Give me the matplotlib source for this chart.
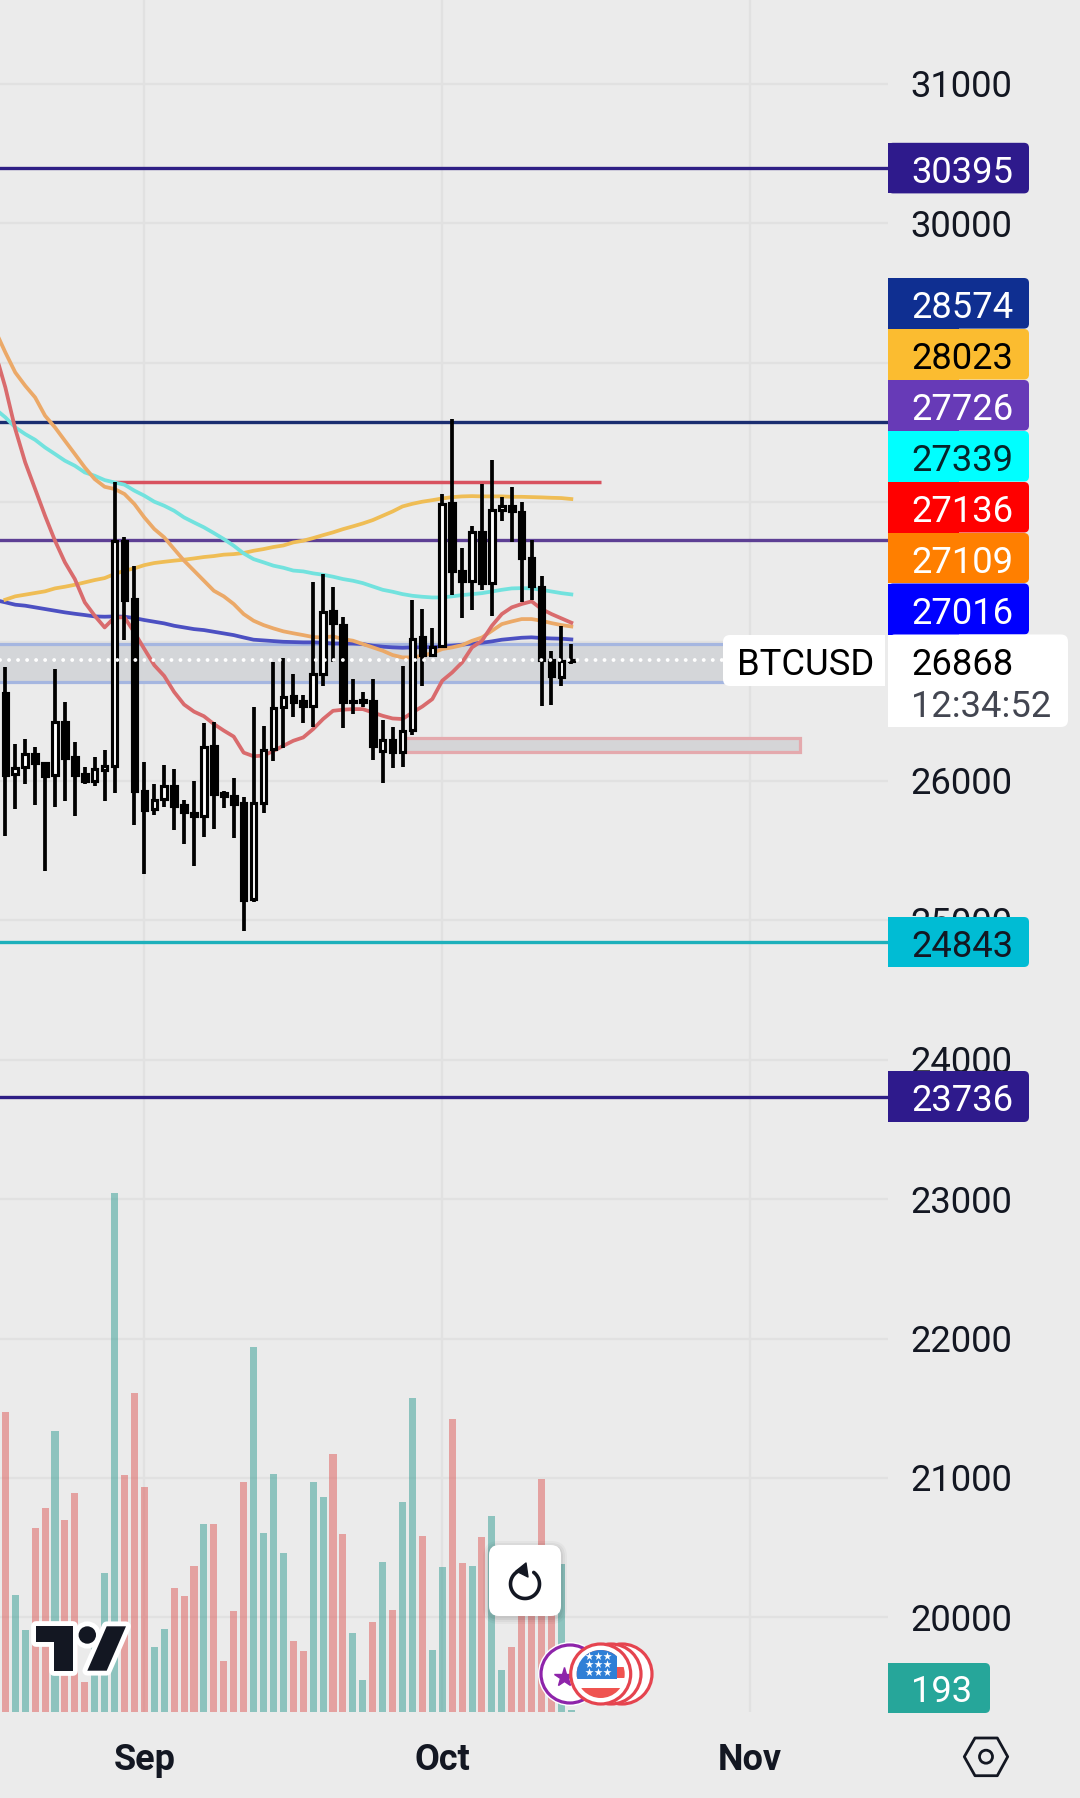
import numpy as np
import matplotlib
matplotlib.use("Agg")
import matplotlib.pyplot as plt
from matplotlib.patches import Rectangle, FancyBboxPatch, Circle, Polygon
from matplotlib.transforms import ScaledTranslation

plt.rcParams['font.family'] = ['Roboto', 'DejaVu Sans']

# ---------- data ----------
candle_idx = list(range(58))
highs = [26819,26265,26301,26242,26135,26801,26567,26281,26101,26170,26222,28146,27754,27541,26135,25978,26114,26086,25863,25999,
         26416,26427,25930,26019,25883,26529,26393,26855,26880,26767,26617,27430,27485,27389,27174,26732,26636,26732,26437,26385,
         26827,27298,27234,27097,28059,28597,27671,27831,28130,28302,28035,28106,28000,27731,27473,26930,27109,26983]
lows = [25609,25801,25981,25827,25358,25812,25858,25750,25978,25965,25858,25914,27011,25686,25333,25760,25812,25648,25548,25391,
        25602,25658,25807,25594,24923,25135,25768,26147,26234,26461,26416,26385,26684,26851,26380,26481,26528,26153,25983,26091,
        26103,26332,26684,26894,26966,27337,27172,27229,27370,27186,27867,27717,27286,27301,26540,26547,26679,26839]
opens = [26632,26050,26101,26191,26132,26045,26427,26170,26050,25999,26081,26106,27723,27305,25927,25801,25871,25968,25827,25773,
         25748,26255,25914,25896,25840,25153,25845,26229,26528,26607,26576,26540,26767,27217,27121,26564,26569,26576,26213,26296,
         26210,26366,27030,26904,26971,27992,27509,27437,27784,27420,27944,27975,27927,27597,27394,26870,26748,26863]
closes = [26045,26096,26191,26127,26037,26427,26165,26045,25999,26083,26106,27723,27300,25930,25794,25865,25968,25819,25781,25748,
          26242,25904,25896,25832,25148,25845,26224,26524,26600,26569,26535,26767,27215,27131,26564,26576,26581,26253,26296,26206,
          26361,27018,26904,26959,27987,27504,27432,27788,27418,27944,27970,27934,27597,27396,26870,26755,26863,26868]

volumes = [30000,11700,8200,18400,20400,28100,19200,21900,3000,7500,13900,51900,23700,31900,22500,6500,8300,12400,11600,14600,
           18800,18800,5100,10100,23000,36500,17900,23800,15900,7100,6100,23000,21500,25800,17800,7900,3200,9000,15000,10200,
           21000,31400,17600,6200,14500,29300,14900,14600,17500,19600,4200,6500,13000,11000,23300,10000,14800,193]
volume_sides = list("rggrrgrrrgggrrrggrrrgrrrrggggrrggrrggrgrggrggrrgrggrrrrrgg")

ma_idx = list(range(-1, 58))
ma_red = [29070,28824,28525,28286,28095,27903,27724,27569,27449,27282,27186,27102,27174,27174,27066,26947,26831,26754,26639,26549,
          26498,26465,26409,26362,26319,26204,26178,26183,26216,26253,26289,26313,26373,26445,26504,26512,26516,26516,26492,26468,
          26449,26445,26492,26535,26588,26720,26779,26851,26959,27006,27114,27198,27246,27270,27289,27234,27198,27167,27136]
ma_orange = [29230,29075,28931,28836,28752,28621,28537,28441,28346,28250,28166,28111,28095,28059,27987,27891,27808,27748,27664,27581,
             27509,27437,27365,27325,27270,27198,27150,27119,27095,27074,27060,27047,27033,27030,27038,27018,27007,26983,26959,26935,
             26904,26887,26887,26899,26918,26947,26959,26975,27006,27030,27078,27126,27145,27162,27162,27150,27133,27119,27109]
ma_cyan = [28668,28609,28537,28489,28448,28393,28346,28298,28262,28214,28190,28159,28142,28126,28083,28047,28004,27975,27939,27891,
           27855,27820,27779,27736,27688,27633,27592,27569,27545,27530,27510,27504,27490,27480,27466,27449,27437,27420,27396,27372,
           27358,27341,27329,27322,27317,27317,27325,27334,27341,27348,27360,27372,27382,27384,27382,27372,27360,27348,27339]
ma_blue = [27298,27282,27265,27258,27246,27234,27222,27210,27200,27191,27181,27179,27181,27179,27169,27155,27143,27131,27114,27102,
           27090,27083,27071,27059,27047,27030,27014,27009,27004,26999,26997,26995,26995,26992,26987,26987,26987,26983,26971,26964,
           26959,26956,26959,26959,26961,26966,26971,26978,26987,26992,27002,27014,27021,27028,27031,27026,27023,27021,27016]
ma_yellow_idx = list(range(0, 58))
ma_yellow = [27301,27325,27337,27349,27361,27382,27394,27408,27425,27442,27456,27485,27509,27526,27549,27564,27573,27581,27588,27597,
             27607,27614,27624,27628,27636,27652,27664,27679,27690,27712,27724,27743,27764,27784,27807,27827,27848,27872,27903,27934,
             27970,27989,28004,28015,28027,28037,28042,28044,28042,28042,28042,28039,28039,28037,28035,28032,28030,28023]

level_prices = [30395, 28574, 27726, 24843, 23736]
level_colors = ['#2e1f85', '#1a2d70', '#5d3f94', '#1db0bb', '#2e1f85']
ray_price = 28146
ray_start, ray_end = 11, 60
zone_blue = (26712, 26983)
zone_red = (26208, 26308, 40, 80.0)
last_price = 26868

price_ticks = [20000,21000,22000,23000,24000,25000,26000,27000,28000,29000,30000,31000]
price_tick_labels = ['20000','21000','22000','23000','24000','25000','26000','','','','30000','31000']
month_pos = [14, 44, 75]
month_labels = ['Sep', 'Oct', 'Nov']

BG = '#ebebeb'
INK = '#131722'
W, H = 1080, 1799
PANE_R, PANE_B = 888, 1713

fig = plt.figure(figsize=(W/100, H/100), dpi=100, facecolor=BG)
rect = [0, (H-PANE_B)/H, PANE_R/W, PANE_B/H]

ax = fig.add_axes(rect, zorder=1)
ax.set_facecolor(BG)
ax.set_xlim(-0.537, 88.89)
ax.set_ylim(19322, 31610)
for s in ax.spines.values():
    s.set_visible(False)
ax.yaxis.tick_right()
ax.set_yticks(price_ticks)
ax.set_yticklabels(price_tick_labels, fontsize=26.2, color=INK)
ax.tick_params(axis='y', length=0, pad=16.3)
up_shift = ScaledTranslation(0, 1.2/72, fig.dpi_scale_trans)
for lab in ax.get_yticklabels():
    lab.set_transform(lab.get_transform() + up_shift)
ax.set_xticks(month_pos)
ax.set_xticklabels(month_labels, fontsize=25.9, fontweight='bold', color=INK)
ax.tick_params(axis='x', length=0, pad=21)
ax.grid(True, color='#e1e1e1', linewidth=1.7)
ax.set_axisbelow(True)

# zones
ax.add_patch(Rectangle((-1, zone_blue[0]), 75, zone_blue[1]-zone_blue[0], facecolor='#d4d6d9',
                       edgecolor='#a5b6e0', linewidth=2.3, zorder=1.5))
ax.add_patch(Rectangle((zone_red[2], zone_red[0]), zone_red[3]-zone_red[2], zone_red[1]-zone_red[0],
                       facecolor='#d5d5d7', edgecolor='#e4a9ad', linewidth=2.3, zorder=1.5))

# levels
for p, c in zip(level_prices, level_colors):
    ax.axhline(p, color=c, linewidth=2.4, zorder=2)
ax.plot([ray_start, ray_end], [ray_price, ray_price], color='#d8525f', linewidth=2.5, zorder=2, solid_capstyle='butt')

# moving averages
ma_kw = dict(linewidth=2.7, zorder=3, solid_joinstyle='round')
ax.plot(ma_idx, ma_blue, color='#4c50c2', **ma_kw)
ax.plot(ma_yellow_idx, ma_yellow, color='#efbd55', **ma_kw)
ax.plot(ma_idx, ma_cyan, color='#72e2de', **ma_kw)
ax.plot(ma_idx, ma_orange, color='#eba968', **ma_kw)
ax.plot(ma_idx, ma_red, color='#d96b6d', **ma_kw)

# candles
ax.vlines(candle_idx, lows, highs, color='black', linewidth=2.7, zorder=4)
o, c_ = np.array(opens), np.array(closes)
body_colors = ['white' if b > a else 'black' for a, b in zip(opens, closes)]
ax.bar(candle_idx, np.abs(c_-o), bottom=np.minimum(o, c_), width=0.56, color=body_colors,
       edgecolor='black', linewidth=2.25, zorder=5)

# last price dotted
ax.plot([-0.5, 72.5], [last_price, last_price], color='white', linewidth=2.8,
        linestyle=(0, (0.01, 2.31)), dash_capstyle='round', zorder=6)

# volumes
axv = fig.add_axes(rect, zorder=2, sharex=ax)
axv.patch.set_visible(False)
axv.set_ylim(0, PANE_B*100)
axv.axis('off')
vol_cols = ['#319d93' if s == 'g' else '#df5957' for s in volume_sides]
axv.bar(candle_idx, volumes, width=0.71, color=vol_cols, alpha=0.5, linewidth=0)

# ---------- overlay (labels and icons, in pixels) ----------
ov = fig.add_axes([0, 0, 1, 1], zorder=10)
ov.set_xlim(0, W); ov.set_ylim(H, 0)
ov.axis('off'); ov.patch.set_visible(False)

def tag(x0, y0, x1, y1, color, r=5, z=2):
    ov.add_patch(FancyBboxPatch((x0, y0), x1-x0, y1-y0, boxstyle=f"round,pad=0,rounding_size={r}",
                                facecolor=color, edgecolor='none', zorder=z))
    ov.add_patch(Rectangle((x0, y0), (x1-x0)/2, y1-y0, facecolor=color, edgecolor='none', zorder=z))

tags = [(143.8,194.4,'#2e1a8c','30395','white'),
        (279,329.6,'#0f2f91','28574','white'),
        (330,380.5,'#fbbc30','28023','black'),
        (381,431.5,'#673ab7','27726','white'),
        (432,482.5,'#00ffff','27339','#06262b'),
        (483,533.5,'#ff0000','27136','white'),
        (534,584,'#ff7f00','27109','white'),
        (584.5,635.5,'#0000ff','27016','white'),
        (918,968,'#00bcd4','24843',INK),
        (1072,1123,'#2e1a8c','23736','white')]
for y0, y1, col, txt, tc in tags:
    tag(888, y0, 1029, y1, col)
    ov.text(911, (y0+y1)/2, txt, color=tc, fontsize=26.2, va='center_baseline', ha='left', zorder=3)

tag(888, 635.5, 1068, 728, 'white', r=7)
ov.text(911, 661, str(last_price), color='black', fontsize=26.2, va='center_baseline', ha='left', zorder=3)
ov.text(911, 703, '12:34:52', color='#434651', fontsize=26.2, va='center_baseline', ha='left', zorder=3)
ov.add_patch(FancyBboxPatch((723, 636), 170, 51, boxstyle="round,pad=0,rounding_size=7", facecolor='white',
                            edgecolor='none', zorder=1))
ov.add_patch(Rectangle((860, 636), 25, 51, facecolor='white', edgecolor='none', zorder=1))
ov.add_patch(Rectangle((885, 636), 3, 51, facecolor=BG, edgecolor='none', zorder=1.5))
ov.text(736.5, 661, 'BTCUSD', color='black', fontsize=26.2, va='center_baseline', ha='left', zorder=3)

tag(888, 1664, 990, 1714, '#26a69a')
ov.text(911, 1688, '193', color='white', fontsize=26.2, va='center_baseline', ha='left', zorder=3)

# TV logo
logo_T = [(36,1627),(72.7,1627),(72.7,1671.7),(54,1671.7),(54,1642.7),(36,1642.7)]
logo_S = [(106.7,1627.3),(126,1627.3),(106.7,1671.7),(87.3,1671.7)]
for halo, lw, z in (('white', 7, 3), (INK, 0, 4)):
    ov.add_patch(Polygon(logo_T, closed=True, facecolor=INK if lw == 0 else halo, edgecolor=halo, linewidth=lw, zorder=z, joinstyle='round'))
    ov.add_patch(Polygon(logo_S, closed=True, facecolor=INK if lw == 0 else halo, edgecolor=halo, linewidth=lw, zorder=z, joinstyle='round'))
    ov.add_patch(Circle((87.3,1636), 8.7, facecolor=INK if lw == 0 else halo, edgecolor=halo, linewidth=lw, zorder=z))

# reset button
for grow, a in ((6, .03), (4, .04), (2, .05)):
    ov.add_patch(FancyBboxPatch((489-grow, 1546-grow+2), 72+2*grow, 71+2*grow, boxstyle=f"round,pad=0,rounding_size={10+grow}",
                                facecolor='black', alpha=a, edgecolor='none', zorder=3))
ov.add_patch(FancyBboxPatch((489, 1546), 72, 71, boxstyle="round,pad=0,rounding_size=10", facecolor='white', edgecolor='none', zorder=4))
th = np.radians(np.linspace(100, 413, 80))
ov.plot(525+14.5*np.cos(th), 1585-14.5*np.sin(th), color=INK, linewidth=2.6, zorder=5, solid_capstyle='round')
ov.add_patch(Polygon([(526,1564),(516,1572),(528,1578)], closed=True, facecolor=INK, edgecolor=INK, linewidth=1, zorder=5, joinstyle='round'))

# event icons
ov.add_patch(Circle((570,1675), 32, facecolor='white', edgecolor='none', zorder=5))
ov.add_patch(Circle((570,1675), 29, facecolor='white', edgecolor='#8e24aa', linewidth=2.3, zorder=5))
ov.plot([564],[1678], marker='*', markersize=15, color='#8e24aa', zorder=5)
for cx in (622, 611):
    ov.add_patch(Circle((cx,1675), 30, facecolor='white', edgecolor='#e5444f', linewidth=2.3, zorder=6))
ov.add_patch(Circle((600.7,1675), 30, facecolor='white', edgecolor='#e5444f', linewidth=2.3, zorder=6))
clip = Circle((600.7,1675), 24, transform=ov.transData)
for y0, h in ((1650,6.5),(1668,11),(1689,10)):
    r = ov.add_patch(Rectangle((570,y0),60,h,facecolor='#ef5350',edgecolor='none',zorder=7)); r.set_clip_path(clip)
r = ov.add_patch(Rectangle((570,1650),47,30,facecolor='#2f7fd6',edgecolor='none',zorder=8)); r.set_clip_path(clip)
sx, sy = np.meshgrid([589,598,607],[1657,1665,1673])
ov.scatter(sx.ravel(), sy.ravel(), marker='*', s=38, color='white', linewidths=0, zorder=9)

# settings hexagon
ov.add_patch(Polygon([(964.3,1757.7),(975,1739),(997.3,1739),(1007.7,1757.7),(997.3,1776.7),(975,1776.7)], closed=True,
                     facecolor='none', edgecolor=INK, linewidth=2, zorder=3, joinstyle='round'))
ov.add_patch(Circle((986,1757.7), 6.5, facecolor='none', edgecolor=INK, linewidth=2, zorder=3))

fig.savefig('out.png', dpi=100, facecolor=BG)
